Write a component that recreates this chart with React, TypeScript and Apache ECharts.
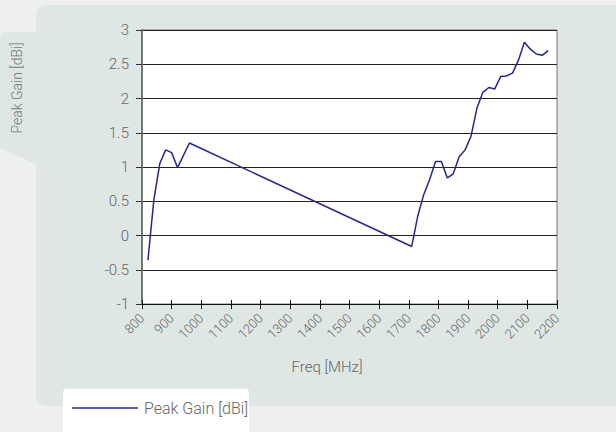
import React, { useEffect, useRef } from "react";
import * as echarts from "echarts";

const freqs = [820, 840, 860, 880, 900, 920, 960, 1710, 1730, 1750, 1770, 1790, 1810, 1830, 1850, 1870, 1890, 1910, 1930, 1950, 1970, 1990, 2010, 2030, 2050, 2070, 2090, 2110, 2130, 2150, 2170];
const gains = [-0.36, 0.52, 1.05, 1.25, 1.21, 0.99, 1.35, -0.16, 0.28, 0.59, 0.81, 1.08, 1.08, 0.84, 0.9, 1.15, 1.25, 1.45, 1.86, 2.09, 2.16, 2.14, 2.32, 2.33, 2.37, 2.56, 2.82, 2.72, 2.65, 2.63, 2.7];
const seriesName = "Peak Gain [dBi]";
const xTitle = "Freq [MHz]";
const yTitle = "Peak Gain [dBi]";

const FONT = "Roboto";
const PANEL = "#dfe7e4";
const LINE = "#26278a";

export default function App() {
  const ref = useRef<HTMLDivElement>(null);
  useEffect(() => {
    const chart = echarts.init(ref.current!, null, { renderer: "svg" });
    const data = freqs.map((f, i) => [f, gains[i]]);
    chart.setOption({
      animation: false,
      backgroundColor: "#eef0ef",
      textStyle: { fontFamily: FONT },
      graphic: [
        { type: "rect", z: -10, shape: { x: 36, y: 5, width: 600, height: 401, r: 10 }, style: { fill: PANEL } },
        { type: "polygon", z: -10, shape: { points: [[0, 36], [4, 32], [40, 32], [40, 166], [0, 148]] }, style: { fill: PANEL } },
        { type: "text", z: 5, x: 17, y: 88, rotation: Math.PI / 2, style: { text: yTitle, fill: "#7a7a7a", font: `300 14px ${FONT}`, align: "center", verticalAlign: "middle" } },
        { type: "text", z: 5, x: 327, y: 367, style: { text: xTitle, fill: "#666", font: `300 15px ${FONT}`, align: "center", verticalAlign: "middle" } },
        { type: "rect", z: -5, shape: { x: 63, y: 389, width: 186, height: 60, r: 4 }, style: { fill: "#ffffff" } },
        { type: "line", z: 5, shape: { x1: 72, y1: 408, x2: 138, y2: 408 }, style: { stroke: LINE, lineWidth: 1.5 } },
        { type: "text", z: 5, x: 144, y: 408, style: { text: seriesName, fill: "#666", font: `300 16px ${FONT}`, align: "left", verticalAlign: "middle" } },
      ],
      grid: { left: 142, right: 59, top: 30, bottom: 128, show: true, backgroundColor: "#ffffff", borderColor: "#777", borderWidth: 1 },
      xAxis: [
        {
          type: "value",
          min: 800,
          max: 2200,
          interval: 100,
          axisLine: { show: true, onZero: false, lineStyle: { color: "#111", width: 1 } },
          axisTick: { show: true, length: 5, lineStyle: { color: "#111" } },
          axisLabel: { rotate: 45, color: "#666", fontSize: 13, fontWeight: 300, margin: 12, formatter: (v: number) => String(v) },
          splitLine: { show: false },
        },
        {
          type: "value",
          min: 800,
          max: 2200,
          interval: 100,
          position: "bottom",
          axisLine: { show: false, onZero: false },
          axisTick: { show: true, inside: true, length: 4, lineStyle: { color: "#111" } },
          axisLabel: { show: false },
          splitLine: { show: false },
        },
      ],
      yAxis: {
        type: "value",
        min: -1,
        max: 3,
        interval: 0.5,
        axisLine: { show: true, lineStyle: { color: "#777", width: 2 } },
        axisTick: { show: true, length: 6, lineStyle: { color: "#333" } },
        axisLabel: { color: "#666", fontSize: 15, fontWeight: 300, margin: 13 },
        splitLine: { show: true, lineStyle: { color: "#222", width: 1 } },
      },
      series: [
        {
          name: seriesName,
          type: "line",
          xAxisIndex: 0,
          data,
          symbol: "none",
          lineStyle: { color: LINE, width: 1.5 },
          itemStyle: { color: LINE },
        },
      ],
    });
    return () => chart.dispose();
  }, []);
  return <div ref={ref} style={{ position: "absolute", left: 0, top: 0, width: 616, height: 432 }} />;
}
